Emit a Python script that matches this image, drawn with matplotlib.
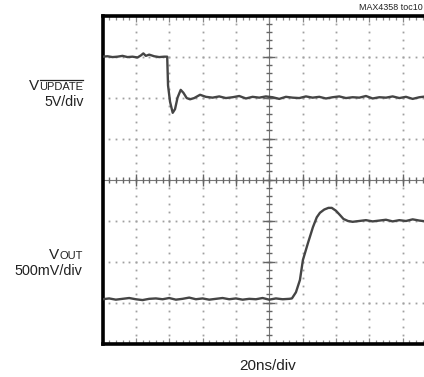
import numpy as np
import matplotlib
matplotlib.use("Agg")
import matplotlib.pyplot as plt
from matplotlib.lines import Line2D
from matplotlib.transforms import IdentityTransform

# ---------------- data (time in ns, level in graticule divisions from bottom) ----------------
upd_t = [0, 3, 6, 9, 12, 15, 18, 21, 23, 24.5, 26, 28, 31, 34, 37,
         38.8, 39.3, 40.5, 42.1, 43.5, 45, 46.9, 48.5, 50.5, 52.5, 55, 58.5,
         62, 66, 70, 74, 78, 82, 86, 90, 94, 98, 102, 106, 110, 114, 118,
         122, 126, 130, 134, 138, 142, 146, 150, 154, 158, 162, 166, 170,
         174, 178, 182, 186, 190, 194, 197, 200]
upd_v = [7.00, 7.01, 6.99, 7.00, 7.02, 6.99, 7.00, 6.98, 7.03, 7.08, 7.02, 7.05, 7.01, 6.99, 7.00,
         7.00, 6.30, 5.90, 5.63, 5.72, 6.00, 6.19, 6.12, 5.99, 5.96, 5.99, 6.07,
         6.02, 6.00, 6.03, 5.99, 6.01, 6.04, 5.98, 6.02, 6.00, 6.03, 6.01, 5.97, 6.02, 6.00, 5.99,
         6.03, 6.00, 6.02, 5.98, 6.01, 6.03, 5.99, 6.01, 6.00, 6.04, 5.98, 6.01, 6.00,
         6.03, 5.99, 6.02, 5.97, 6.01, 6.03, 6.00, 6.02]

out_t = [0, 4, 8, 12, 16, 20, 24, 28, 32, 36, 40, 44, 48, 52, 56, 60, 64, 68, 72, 76,
         80, 84, 88, 92, 96, 100, 104, 108, 112,
         113.6, 116, 118.4, 120.2, 123.2, 126.2, 128.5, 130.4, 133, 135.5, 137.5,
         140, 142.3, 144.5, 147.2, 150, 154, 158, 162, 166, 170, 174, 178, 182,
         186, 190, 194, 198, 200]
out_v = [1.08, 1.10, 1.07, 1.09, 1.11, 1.08, 1.06, 1.09, 1.10, 1.08, 1.11, 1.07, 1.09, 1.12, 1.08, 1.10, 1.07, 1.09, 1.11, 1.08,
         1.10, 1.07, 1.09, 1.08, 1.11, 1.07, 1.10, 1.08, 1.09,
         1.10, 1.25, 1.55, 2.04, 2.45, 2.84, 3.08, 3.19, 3.27, 3.31, 3.31,
         3.24, 3.14, 3.04, 2.99, 2.97, 2.99, 3.01, 2.98, 3.00, 3.02, 2.98, 3.01, 2.99,
         3.03, 3.00, 2.98, 3.01, 3.00]

n_xdiv = 10
n_ydiv = 8
ns_per_div = 20

W, H = 424, 377
fig = plt.figure(figsize=(W / 100, H / 100), dpi=100)
fig.patch.set_facecolor("white")

fam = ["Liberation Sans", "DejaVu Sans"]
txt_c = "#222222"

# axes position in pixels
left_px, right_px, top_px, bot_px = 102.5, 436.0, 15.7, 343.5
ax = fig.add_axes([left_px / W, 1 - bot_px / H, (right_px - left_px) / W, (bot_px - top_px) / H])
xmax = n_xdiv * ns_per_div
ax.set_xlim(0, xmax)
ax.set_ylim(0, n_ydiv)

grid_c = "#a0a0a0"
# dotted graticule lines
for i in range(1, n_xdiv):
    x = i * ns_per_div
    if i == n_xdiv // 2:
        continue
    ys = np.arange(0.2, n_ydiv, 0.2)
    ax.plot(np.full_like(ys, x), ys, ls="none", marker="s", ms=1.3, mew=0, color=grid_c, zorder=1)
for j in range(1, n_ydiv):
    if j == n_ydiv // 2:
        continue
    xs = np.arange(ns_per_div / 5, xmax, ns_per_div / 5)
    ax.plot(xs, np.full_like(xs, j), ls="none", marker="s", ms=1.3, mew=0, color=grid_c, zorder=1)

# centre cross with tick marks
cx, cy = xmax / 2, n_ydiv / 2
ax.axvline(cx, color="#777777", lw=0.8, zorder=1)
ax.axhline(cy, color="#777777", lw=0.8, zorder=1)
ys = np.arange(0.2, n_ydiv, 0.2)
ax.plot(np.full_like(ys, cx), ys, ls="none", marker="_", ms=4, mew=1.0, color="#666666", zorder=1)
majy = np.arange(1, n_ydiv, dtype=float)
ax.plot(np.full_like(majy, cx), majy, ls="none", marker="_", ms=8, mew=1.0, color="#666666", zorder=1)
xs = np.arange(ns_per_div / 5, xmax, ns_per_div / 5)
ax.plot(xs, np.full_like(xs, cy), ls="none", marker="|", ms=4, mew=1.0, color="#666666", zorder=1)
majx = np.arange(ns_per_div, xmax, ns_per_div, dtype=float)
ax.plot(majx, np.full_like(majx, cy), ls="none", marker="|", ms=8, mew=1.0, color="#666666", zorder=1)

# edge ticks (top/bottom)
ax.set_xticks(np.arange(0, xmax + 1, ns_per_div))
ax.set_xticks(np.arange(0, xmax + 1, ns_per_div / 5), minor=True)
ax.set_yticks([])
ax.tick_params(axis="x", which="both", direction="in", top=True, bottom=True,
               labelbottom=False, color="#888888", width=0.9)
ax.tick_params(axis="x", which="major", length=4)
ax.tick_params(axis="x", which="minor", length=3)

for s in ["left", "top", "bottom", "right"]:
    ax.spines[s].set_linewidth(2.6)
    ax.spines[s].set_color("black")

# traces
trace_c = "#454545"
ax.plot(upd_t, upd_v, color=trace_c, lw=1.7, zorder=3, solid_joinstyle="round")
ax.plot(out_t, out_v, color=trace_c, lw=1.7, zorder=3, solid_joinstyle="round")

# ---------------- text ----------------
def fx(px):
    return px / W

def fy(py):
    return 1 - py / H

fig.text(fx(423), fy(9.5), "MAX4358 toc10", fontsize=6.4, family=fam, ha="right", va="baseline", color=txt_c)

t_upd = fig.text(fx(83.5), fy(90), "UPDATE", fontsize=8, family=fam, ha="right", va="baseline", color=txt_c)
fig.text(fx(83.5), fy(106.5), "5V/div", fontsize=10.2, family=fam, ha="right", va="baseline", color=txt_c)

t_out = fig.text(fx(82.5), fy(259), "OUT", fontsize=8, family=fam, ha="right", va="baseline", color=txt_c)
fig.text(fx(82.5), fy(275), "500mV/div", fontsize=10.4, family=fam, ha="right", va="baseline", color=txt_c)

fig.text(fx(268), fy(370), "20ns/div", fontsize=11, family=fam, ha="center", va="baseline", color=txt_c)

fig.canvas.draw()
bb_u = t_upd.get_window_extent()
bb_o = t_out.get_window_extent()
fig.text((bb_u.x0 - 0.3) / W, fy(90), "V", fontsize=11, family=fam, ha="right", va="baseline", color=txt_c)
fig.text((bb_o.x0 - 0.3) / W, fy(259), "V", fontsize=11, family=fam, ha="right", va="baseline", color=txt_c)
# overline on UPDATE
fig.add_artist(Line2D([bb_u.x0 + 0.5, bb_u.x1 - 0.5], [H - 80, H - 80], transform=IdentityTransform(),
                      color=txt_c, lw=0.9))

fig.savefig("out.png", dpi=100, facecolor="white")
